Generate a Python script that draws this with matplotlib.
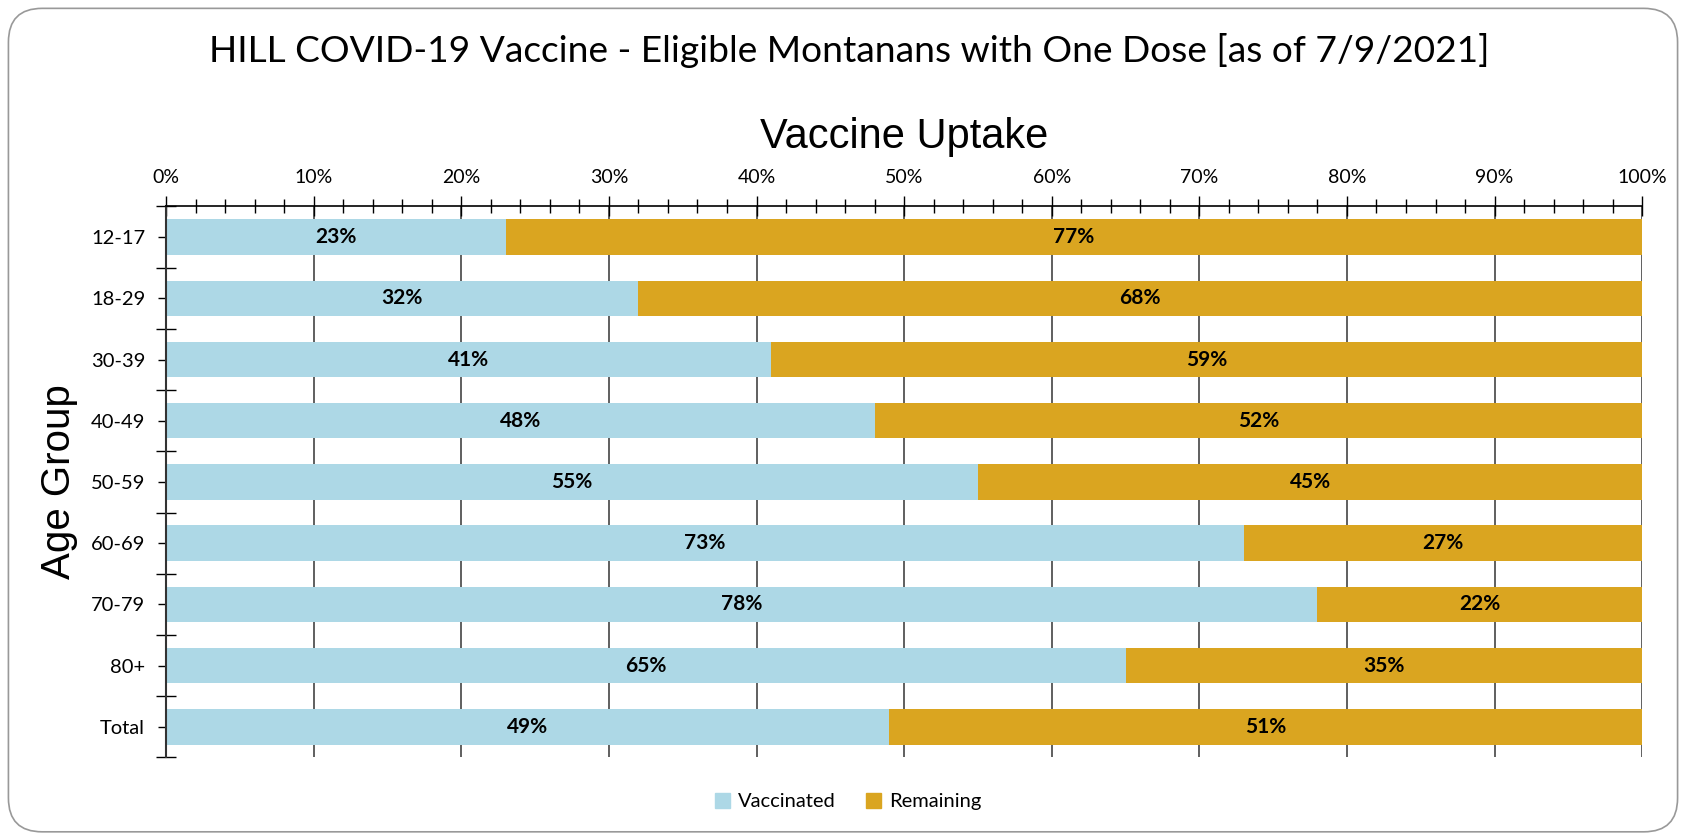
import numpy as np
import matplotlib
matplotlib.use("Agg")
import matplotlib.pyplot as plt
from matplotlib.patches import FancyBboxPatch, Patch
from matplotlib.ticker import MultipleLocator, PercentFormatter

# data
age_groups = ['12-17', '18-29', '30-39', '40-49', '50-59', '60-69', '70-79', '80+', 'Total']
vaccinated = [23, 32, 41, 48, 55, 73, 78, 65, 49]
remaining = [77, 68, 59, 52, 45, 27, 22, 35, 51]

c_vacc = '#ADD8E6'
c_rem = '#DAA520'
body_font = 'Lato'
arial = 'Liberation Sans'

fig = plt.figure(figsize=(16.86, 8.36), dpi=100)
ax = fig.add_axes([0.0985, 0.094, 0.8755, 0.659])

# outer rounded frame
frame = FancyBboxPatch((0.005, 0.005), 0.99, 0.985, boxstyle='round,pad=0,rounding_size=0.02',
                       transform=fig.transFigure, fill=False, edgecolor='#999999', linewidth=1.2,
                       mutation_aspect=1686 / 836)
fig.patches.append(frame)

y = np.arange(len(age_groups))
h = 0.58
ax.barh(y, vaccinated, height=h, color=c_vacc, zorder=2, label='Vaccinated')
ax.barh(y, remaining, left=vaccinated, height=h, color=c_rem, zorder=2, label='Remaining')

for i in range(len(age_groups)):
    ax.text(vaccinated[i] / 2, y[i], f'{vaccinated[i]}%', ha='center', va='center',
            fontsize=15, fontweight='bold', family=body_font, zorder=3)
    ax.text(vaccinated[i] + remaining[i] / 2, y[i], f'{remaining[i]}%', ha='center', va='center',
            fontsize=15, fontweight='bold', family=body_font, zorder=3)

ax.set_xlim(0, 100)
ax.set_ylim(len(age_groups) - 0.5, -0.5)

# x axis on top
ax.xaxis.tick_top()
ax.xaxis.set_major_locator(MultipleLocator(10))
ax.xaxis.set_minor_locator(MultipleLocator(2))
ax.xaxis.set_major_formatter(PercentFormatter(decimals=0))
ax.tick_params(axis='x', which='major', direction='inout', length=14, width=1, pad=8,
               labelsize=14, colors='black')
ax.tick_params(axis='x', which='minor', direction='inout', length=10, width=1)
ax.grid(axis='x', which='major', color='#444444', linewidth=1.2, zorder=1)

# y ticks at centres and category boundaries
ax.set_yticks(y)
ax.set_yticklabels(age_groups)
ax.set_yticks(np.arange(len(age_groups) + 1) - 0.5, minor=True)
ax.tick_params(axis='y', which='major', direction='inout', length=12, width=1, pad=9, labelsize=14.5)
ax.tick_params(axis='y', which='minor', direction='inout', length=14, width=1)
for lbl in ax.get_xticklabels() + ax.get_yticklabels():
    lbl.set_family(body_font)

for side in ['right', 'bottom']:
    ax.spines[side].set_visible(False)
ax.spines['left'].set_color('#333333')
ax.spines['left'].set_linewidth(1.5)
ax.spines['top'].set_linewidth(1.2)

fig.text(0.504, 0.94, 'HILL COVID-19 Vaccine - Eligible Montanans with One Dose [as of 7/9/2021]',
         ha='center', va='center', fontsize=26.7, family=body_font)
fig.text(0.536, 0.836, 'Vaccine Uptake', ha='center', va='center', fontsize=30, family=arial)
fig.text(0.035, 0.424, 'Age Group', ha='center', va='center', rotation=90, fontsize=29, family=arial)

handles = [Patch(color=c_vacc, label='Vaccinated'), Patch(color=c_rem, label='Remaining')]
fig.legend(handles=handles, loc='center', bbox_to_anchor=(0.503, 0.041), ncol=2, frameon=False,
           prop={'family': body_font, 'size': 14.5}, handlelength=0.75, handleheight=0.75,
           handletextpad=0.4, columnspacing=1.5)

fig.savefig('out.png', dpi=100)
